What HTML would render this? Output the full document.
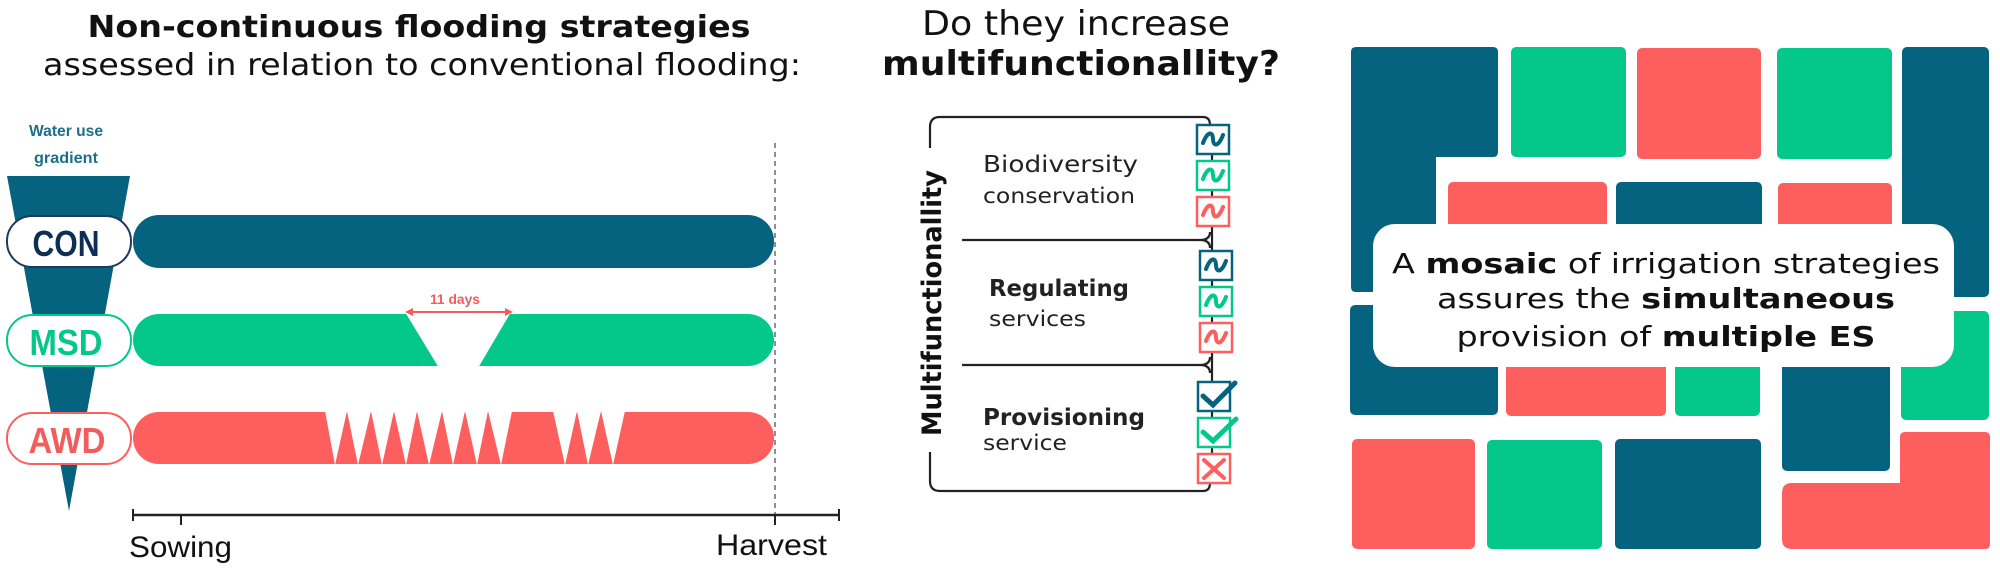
<!DOCTYPE html>
<html><head><meta charset="utf-8"><style>
html,body{margin:0;padding:0;background:#fff;}
svg{display:block;}
</style></head><body>
<svg width="2000" height="574" viewBox="0 0 2000 574" xmlns="http://www.w3.org/2000/svg" font-family="DejaVu Sans, Liberation Sans, sans-serif">
<rect width="2000" height="574" fill="#fff"/>
<!-- LEFT PANEL -->
<text x="419" y="37" text-anchor="middle" font-size="30" font-weight="bold" textLength="663" lengthAdjust="spacingAndGlyphs" fill="#111">Non-continuous flooding strategies</text>
<text x="422" y="75" text-anchor="middle" font-size="30" textLength="758" lengthAdjust="spacingAndGlyphs" fill="#111">assessed in relation to conventional flooding:</text>
<text x="66" y="136" text-anchor="middle" font-family="Liberation Sans, sans-serif" font-size="16" font-weight="bold" fill="#1b6f8a" textLength="74" lengthAdjust="spacingAndGlyphs">Water use</text>
<text x="66" y="163" text-anchor="middle" font-family="Liberation Sans, sans-serif" font-size="16" font-weight="bold" fill="#1b6f8a" textLength="64" lengthAdjust="spacingAndGlyphs">gradient</text>
<polygon points="7,176 130,176 69,511" fill="#05637f"/>
<!-- CON -->
<rect x="7" y="216" width="124" height="51" rx="25" fill="#fff" stroke="#1d3a5c" stroke-width="2"/>
<text x="66" y="256" text-anchor="middle" font-family="Liberation Sans, sans-serif" font-size="36" font-weight="bold" fill="#0e2e55" textLength="67" lengthAdjust="spacingAndGlyphs">CON</text>
<rect x="133" y="215" width="641" height="53" rx="26" fill="#05637f"/>
<!-- MSD -->
<rect x="7" y="315" width="124" height="51" rx="25" fill="#fff" stroke="#04c88a" stroke-width="2"/>
<text x="66" y="355" text-anchor="middle" font-family="Liberation Sans, sans-serif" font-size="36" font-weight="bold" fill="#04c88a" textLength="73" lengthAdjust="spacingAndGlyphs">MSD</text>
<rect x="133" y="314" width="641" height="52" rx="26" fill="#04c88a"/>
<polygon points="405,312 511,312 478,368 439,368" fill="#fff"/>
<line x1="410" y1="312" x2="508" y2="312" stroke="#f25c5c" stroke-width="2"/>
<polygon points="405,312 413,308 413,316" fill="#f25c5c"/>
<polygon points="513,312 505,308 505,316" fill="#f25c5c"/>
<text x="455" y="304" text-anchor="middle" font-family="Liberation Sans, sans-serif" font-size="14" font-weight="bold" fill="#f25c5c" textLength="50" lengthAdjust="spacingAndGlyphs">11 days</text>
<!-- AWD -->
<rect x="7" y="413" width="124" height="51" rx="25" fill="#fff" stroke="#fd5e5e" stroke-width="2"/>
<text x="67" y="453" text-anchor="middle" font-family="Liberation Sans, sans-serif" font-size="36" font-weight="bold" fill="#f25c5c" textLength="77" lengthAdjust="spacingAndGlyphs">AWD</text>
<rect x="133" y="412" width="641" height="52" rx="26" fill="#fd5e5e"/>
<polygon points="325,411 335,465 347,411 358,465 371,411 382,465 394,411 406,465 417,411 429,465 442,411 453,465 465,411 477,465 488,411 501,465 512,411 553,411 565,465 577,411 588,465 601,411 613,465 625,411" fill="#fff"/>
<!-- axis -->
<line x1="775" y1="143" x2="775" y2="515" stroke="#555" stroke-width="1.3" stroke-dasharray="5,4"/>
<line x1="133" y1="515" x2="839" y2="515" stroke="#222" stroke-width="2.5"/>
<line x1="133" y1="509" x2="133" y2="521" stroke="#222" stroke-width="2"/>
<line x1="839" y1="509" x2="839" y2="521" stroke="#222" stroke-width="2"/>
<line x1="181" y1="515" x2="181" y2="525" stroke="#222" stroke-width="2"/>
<line x1="775" y1="515" x2="775" y2="525" stroke="#222" stroke-width="2"/>
<text x="129" y="557" font-family="Liberation Sans, sans-serif" font-size="30" textLength="103" lengthAdjust="spacingAndGlyphs" fill="#111">Sowing</text>
<text x="716" y="555" font-family="Liberation Sans, sans-serif" font-size="30" textLength="111" lengthAdjust="spacingAndGlyphs" fill="#111">Harvest</text>
<!-- MIDDLE PANEL -->
<text x="1076" y="35" text-anchor="middle" font-size="34" textLength="308" lengthAdjust="spacingAndGlyphs" fill="#111">Do they increase</text>
<text x="1081" y="75" text-anchor="middle" font-size="34" font-weight="bold" textLength="398" lengthAdjust="spacingAndGlyphs" fill="#111">multifunctionallity?</text>
<g fill="none" stroke="#222" stroke-width="2.2">
<path d="M930,148 V127 Q930,117 940,117 H1203 Q1210,117 1210,125"/>
<path d="M930,452 V481 Q930,491 940,491 H1203 Q1210,491 1210,483"/>
<path d="M962,240 H1200 Q1210,240 1210,248 M1200,240 Q1210,240 1210,232"/>
<path d="M962,365 H1200 Q1210,365 1210,373 M1200,365 Q1210,365 1210,357"/>
<line x1="1212" y1="125" x2="1212" y2="483"/>
</g>
<text transform="translate(941,303) rotate(-90)" text-anchor="middle" font-size="27" font-weight="bold" textLength="266" lengthAdjust="spacingAndGlyphs" fill="#111">Multifunctionallity</text>
<text x="983" y="172" font-size="23" font-weight="500" fill="#222" textLength="155" lengthAdjust="spacingAndGlyphs">Biodiversity</text>
<text x="983" y="203" font-size="21" fill="#222" textLength="152" lengthAdjust="spacingAndGlyphs">conservation</text>
<text x="989" y="296" font-size="23" font-weight="bold" fill="#222" textLength="140" lengthAdjust="spacingAndGlyphs">Regulating</text>
<text x="989" y="326" font-size="21" fill="#222" textLength="97" lengthAdjust="spacingAndGlyphs">services</text>
<text x="983" y="425" font-size="23" font-weight="bold" fill="#222" textLength="162" lengthAdjust="spacingAndGlyphs">Provisioning</text>
<text x="983" y="450" font-size="21" fill="#222" textLength="84" lengthAdjust="spacingAndGlyphs">service</text>
<g stroke-width="2.5" fill="#fff">
<rect x="1197" y="125" width="32" height="29" stroke="#05637f"/>
<rect x="1197" y="161" width="32" height="29" stroke="#04c88a"/>
<rect x="1197" y="197" width="32" height="29" stroke="#fd5e5e"/>
<rect x="1200" y="251" width="32" height="29" stroke="#05637f"/>
<rect x="1200" y="287" width="32" height="29" stroke="#04c88a"/>
<rect x="1200" y="323" width="32" height="29" stroke="#fd5e5e"/>
<rect x="1198" y="382" width="32" height="29" stroke="#05637f"/>
<rect x="1198" y="418" width="32" height="29" stroke="#04c88a"/>
<rect x="1198" y="454" width="32" height="29" stroke="#fd5e5e"/>
</g>
<g fill="none" stroke-width="4" stroke-linecap="round">
<path d="M1203,143 C1208,130 1213,132 1213,139 C1213,146 1218,148 1223,135" stroke="#05637f"/>
<path d="M1203,179 C1208,166 1213,168 1213,175 C1213,182 1218,184 1223,171" stroke="#04c88a"/>
<path d="M1203,215 C1208,202 1213,204 1213,211 C1213,218 1218,220 1223,207" stroke="#fd5e5e"/>
<path d="M1206,269 C1211,256 1216,258 1216,265 C1216,272 1221,274 1226,261" stroke="#05637f"/>
<path d="M1206,305 C1211,292 1216,294 1216,301 C1216,308 1221,310 1226,297" stroke="#04c88a"/>
<path d="M1206,341 C1211,328 1216,330 1216,337 C1216,344 1221,346 1226,333" stroke="#fd5e5e"/>
<path d="M1203,396 L1213,405 L1235,383" stroke="#05637f" stroke-width="5"/>
<path d="M1203,432 L1213,441 L1236,419" stroke="#04c88a" stroke-width="5"/>
<path d="M1204,460 L1224,478 M1224,460 L1204,478" stroke="#fd5e5e"/>
</g>
<!-- RIGHT PANEL -->
<g>
<path d="M1351,52 Q1351,47 1356,47 H1493 Q1498,47 1498,52 V152 Q1498,157 1493,157 H1436 V292 H1356 Q1351,292 1351,287 Z" fill="#05637f"/>
<rect x="1511" y="47" width="115" height="110" rx="5" fill="#04c88a"/>
<rect x="1637" y="48" width="124" height="111" rx="5" fill="#fd5e5e"/>
<rect x="1777" y="48" width="115" height="111" rx="5" fill="#04c88a"/>
<rect x="1902" y="47" width="87" height="250" rx="5" fill="#05637f"/>
<rect x="1448" y="182" width="159" height="100" rx="5" fill="#fd5e5e"/>
<rect x="1616" y="182" width="146" height="100" rx="5" fill="#05637f"/>
<rect x="1778" y="183" width="114" height="100" rx="5" fill="#fd5e5e"/>
<rect x="1350" y="305" width="148" height="110" rx="5" fill="#05637f"/>
<rect x="1506" y="320" width="160" height="96" rx="5" fill="#fd5e5e"/>
<rect x="1675" y="320" width="85" height="96" rx="5" fill="#04c88a"/>
<rect x="1782" y="320" width="108" height="151" rx="5" fill="#05637f"/>
<rect x="1901" y="311" width="88" height="109" rx="5" fill="#04c88a"/>
<rect x="1352" y="439" width="123" height="110" rx="5" fill="#fd5e5e"/>
<rect x="1487" y="440" width="115" height="109" rx="5" fill="#04c88a"/>
<rect x="1615" y="439" width="146" height="110" rx="5" fill="#05637f"/>
<path d="M1900,437 Q1900,432 1905,432 H1985 Q1990,432 1990,437 V544 Q1990,549 1985,549 H1792 Q1782,549 1782,539 V493 Q1782,483 1792,483 H1900 Z" fill="#fd5e5e"/>
<rect x="1373" y="224" width="581" height="143" rx="22" fill="#fff"/>
</g>
<text x="1666" y="273" text-anchor="middle" font-size="28" textLength="548" lengthAdjust="spacingAndGlyphs" fill="#111">A <tspan font-weight="bold">mosaic</tspan> of irrigation strategies</text>
<text x="1666" y="308" text-anchor="middle" font-size="28" textLength="458" lengthAdjust="spacingAndGlyphs" fill="#111">assures the <tspan font-weight="bold">simultaneous</tspan></text>
<text x="1666" y="346" text-anchor="middle" font-size="28" textLength="419" lengthAdjust="spacingAndGlyphs" fill="#111">provision of <tspan font-weight="bold">multiple ES</tspan></text>
</svg>
</body></html>
